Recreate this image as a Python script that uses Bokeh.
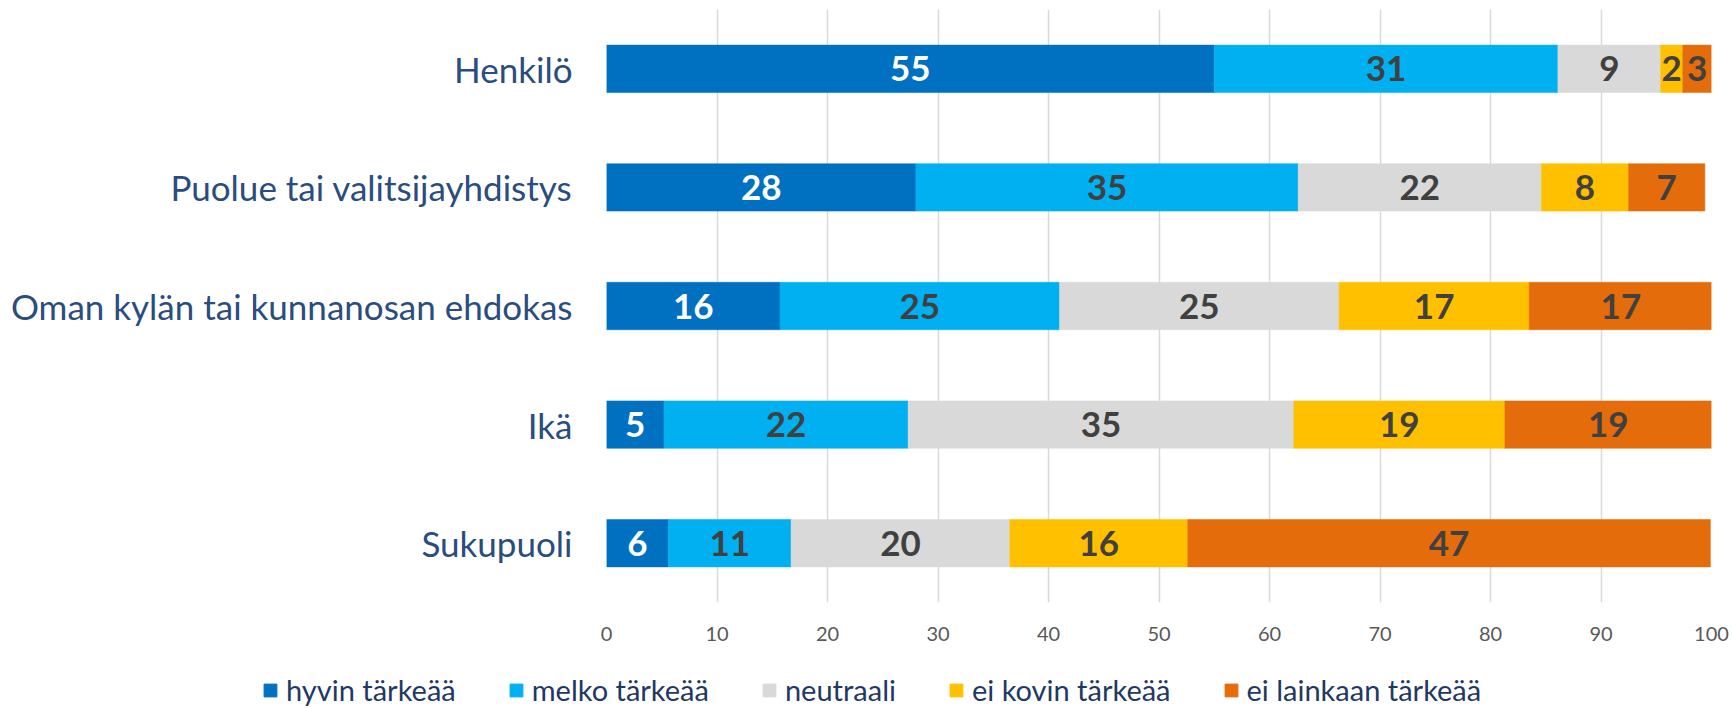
import numpy as np
from bokeh.plotting import figure
from bokeh.layouts import column
from bokeh.models import ColumnDataSource, Legend, LegendItem, FactorRange, Range1d, FixedTicker
from bokeh.core.properties import value
from bokeh.embed import file_html
from bokeh.resources import INLINE

categories = ["Henkilö", "Puolue tai valitsijayhdistys", "Oman kylän tai kunnanosan ehdokas", "Ikä", "Sukupuoli"]
series_names = ["hyvin tärkeää", "melko tärkeää", "neutraali", "ei kovin tärkeää", "ei lainkaan tärkeää"]
hyvin = [55.0, 28.0, 15.7, 5.2, 5.6]
melko = [31.1, 34.6, 25.3, 22.1, 11.1]
neutraali = [9.3, 22.0, 25.3, 34.9, 19.8]
ei_kovin = [2.0, 7.9, 17.2, 19.1, 16.1]
ei_lainkaan = [2.6, 6.9, 16.6, 18.7, 47.3]
x_ticks = [0, 10, 20, 30, 40, 50, 60, 70, 80, 90, 100]

colors = ["#0070C0", "#00B0F0", "#D9D9D9", "#FFC000", "#E46C0A"]
label_colors = ["#FFFFFF", "#404040", "#404040", "#404040", "#404040"]

series = [hyvin, melko, neutraali, ei_kovin, ei_lainkaan]
vals = np.array(series)
rights = np.cumsum(vals, axis=0)
lefts = rights - vals

LEG_H = 50
p = figure(width=1733, height=708 - LEG_H, output_backend="svg", toolbar_location=None,
           y_range=FactorRange(factors=categories[::-1]), x_range=Range1d(0, 100),
           min_border_left=606, min_border_right=22, min_border_top=9, min_border_bottom=56)
p.outline_line_color = None
p.background_fill_color = "white"

for i, name in enumerate(series_names):
    src = ColumnDataSource(dict(cat=categories, left=lefts[i], right=rights[i],
                                mid=(lefts[i] + rights[i]) / 2,
                                txt=[f"{v:.0f}" for v in vals[i]]))
    p.hbar(y="cat", left="left", right="right", height=0.4, source=src,
           fill_color=colors[i], line_color=colors[i], line_width=0.5)
    p.text(x="mid", y="cat", text="txt", source=src, text_align="center", text_baseline="middle",
           text_font=value("Lato"), text_font_style="bold", text_font_size="35px",
           text_color=label_colors[i])

p.xaxis.ticker = FixedTicker(ticks=x_ticks)
p.xaxis.axis_line_color = None
p.xaxis.major_tick_line_color = None
p.xaxis.minor_tick_line_color = None
p.xaxis.major_label_text_font = "Lato"
p.xaxis.major_label_text_font_size = "20px"
p.xaxis.major_label_text_color = "#595959"
p.xaxis.major_label_standoff = 18

p.yaxis.axis_line_color = None
p.yaxis.major_tick_line_color = None
p.yaxis.minor_tick_line_color = None
p.yaxis.major_label_text_font = "Lato"
p.yaxis.major_label_text_font_size = "35px"
p.yaxis.major_label_text_color = "#2A4D80"
p.yaxis.major_label_standoff = 28

p.xgrid.grid_line_color = "#D9D9D9"
p.xgrid.grid_line_width = 1.5
p.ygrid.grid_line_color = None

# legend strip
lg = figure(width=1733, height=LEG_H, output_backend="svg", toolbar_location=None,
            x_range=Range1d(0, 1), y_range=Range1d(0, 1),
            x_axis_location=None, y_axis_location=None,
            min_border_left=0, min_border_right=0, min_border_top=0, min_border_bottom=0)
lg.outline_line_color = None
lg.xgrid.grid_line_color = None
lg.ygrid.grid_line_color = None
for fig in (p, lg):
    if "frame_align" in fig.properties():
        fig.frame_align = False
items = []
for i, name in enumerate(series_names):
    r = lg.hbar(y=[10], left=[10], right=[11], height=0.4, fill_color=colors[i], line_color=colors[i])
    items.append(LegendItem(label=name, renderers=[r]))
legend = Legend(items=items, orientation="horizontal", location=(262, 1),
                label_text_font="Lato", label_text_font_size="29px", label_text_color="#1F3864",
                glyph_width=16, glyph_height=16, label_standoff=8, spacing=52,
                padding=0, margin=0, border_line_color=None, background_fill_alpha=0)
lg.add_layout(legend)

layout = column(p, lg, spacing=0)
open("out.html", "w").write(file_html(layout, INLINE))
